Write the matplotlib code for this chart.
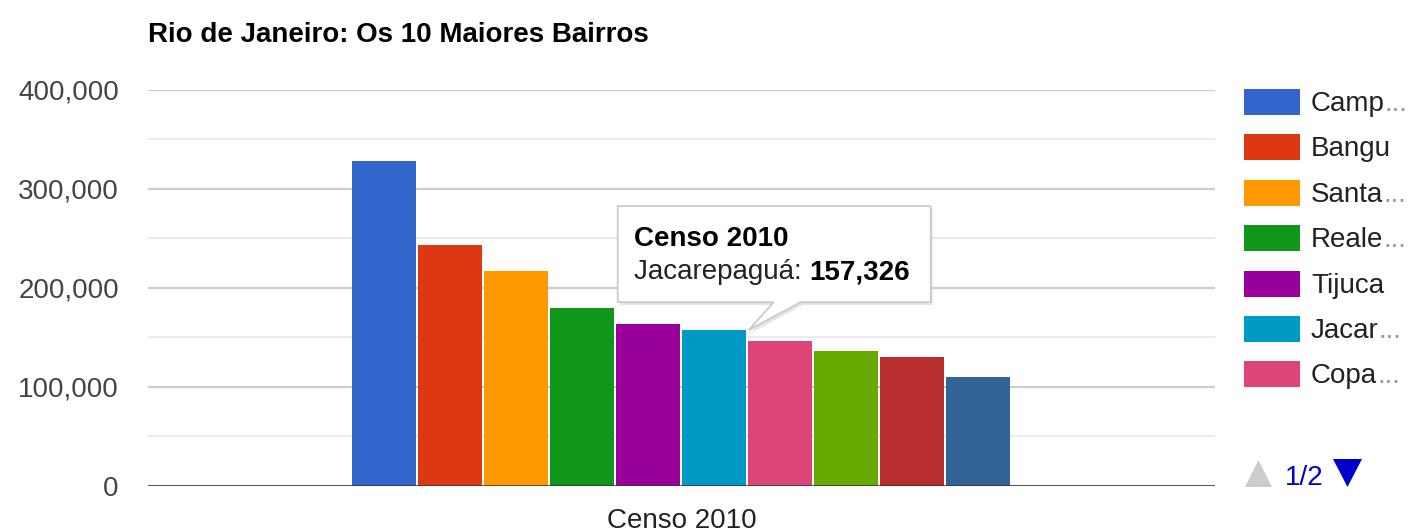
import matplotlib
matplotlib.use("Agg")
import matplotlib.pyplot as plt
from matplotlib.patches import Polygon, Rectangle
from matplotlib.ticker import FuncFormatter, MultipleLocator
import numpy as np

W, H, DPI = 1413, 532, 100

title = "Rio de Janeiro: Os 10 Maiores Bairros"
category = "Censo 2010"
bairros = ["Campo Grande", "Bangu", "Santa Cruz", "Realengo", "Tijuca",
           "Jacarepaguá", "Copacabana", "Barra da Tijuca", "Maré", "Guaratiba"]
populacao = [328370, 243125, 217333, 180123, 163805,
             157326, 146392, 135924, 129770, 110049]
cores = ["#3366cc", "#dc3912", "#ff9900", "#109618", "#990099",
         "#0099c6", "#dd4477", "#66aa00", "#b82e2e", "#316395"]
legenda = ["Camp", "Bangu", "Santa", "Reale", "Tijuca", "Jacar", "Copa"]
truncado = [True, False, True, True, False, True, True]
y_ticks = [0, 100000, 200000, 300000, 400000]
destaque = 5
pagina = "1/2"

FONT = "Liberation Sans"
plt.rcParams["font.family"] = [FONT, "DejaVu Sans"]

fig = plt.figure(figsize=(W / DPI, H / DPI), dpi=DPI)
fig.patch.set_facecolor("white")


def fig_pt(x, y):
    """Top-down pixel position -> figure fraction."""
    return (x / W, 1 - y / H)


# plot area
ax_left, ax_right, ax_top, ax_bottom = 148, 1215, 89.7, 486
ax = fig.add_axes([ax_left / W, 1 - ax_bottom / H,
                   (ax_right - ax_left) / W, (ax_bottom - ax_top) / H])

n = len(populacao)
slot_px = 66
pos = np.arange(n) - (n - 1) / 2
half_span = (ax_right - ax_left) / slot_px / 2
bw = 0.965
ax.bar(pos - 0.01, populacao, width=bw, color=cores, zorder=3, linewidth=0)

ax.set_xlim(-half_span, half_span)
ax.set_ylim(y_ticks[0], y_ticks[-1])
ax.set_yticks(y_ticks)
ax.yaxis.set_minor_locator(MultipleLocator(50000))
ax.yaxis.set_major_formatter(FuncFormatter(lambda v, p: f"{int(v):,}"))
ax.grid(axis="y", which="major", color="#cccccc", linewidth=1.6, zorder=0)
ax.grid(axis="y", which="minor", color="#ebebeb", linewidth=1.4, zorder=0)
ax.axhline(0, color="#333333", linewidth=1.8, zorder=4)
for s in ax.spines.values():
    s.set_visible(False)
ax.tick_params(axis="y", which="both", length=0, pad=21, labelsize=20,
               labelcolor="#444444")
ax.set_xticks([0])
ax.set_xticklabels([category])
ax.tick_params(axis="x", length=0, pad=15.5, labelsize=20, labelcolor="#222222")

# title
fig.text(*fig_pt(148, 42), title, fontsize=20, fontweight="bold",
         color="#000000", ha="left", va="baseline")

renderer = fig.canvas.get_renderer()

# tooltip on the highlighted bar
tip_disp = ax.transData.transform((pos[destaque] - 0.01 + bw / 2,
                                   populacao[destaque]))
tx, ty = tip_disp[0], H - tip_disp[1]
box_l, box_r = tx - 128, tx + 185
box_t, box_b = ty - 124, ty - 28
outline = [(box_l, box_t), (box_r, box_t), (box_r, box_b), (tx + 55, box_b),
           (tx + 3, ty), (tx + 28, box_b), (box_l, box_b)]
shadow = Polygon([fig_pt(x + 2, y + 3) for x, y in outline], closed=True,
                 transform=fig.transFigure, facecolor="#000000", alpha=0.10,
                 edgecolor="none", zorder=9)
balloon = Polygon([fig_pt(x, y) for x, y in outline], closed=True,
                  transform=fig.transFigure, facecolor="white",
                  edgecolor="#c8c8c8", linewidth=1.2, zorder=10)
fig.add_artist(shadow)
fig.add_artist(balloon)
fig.text(*fig_pt(box_l + 16, box_t + 40), category, fontsize=20,
         fontweight="bold", color="#000000", va="baseline", zorder=11)
lab = fig.text(*fig_pt(box_l + 16, box_t + 73), f"{bairros[destaque]}: ",
               fontsize=20, color="#222222", va="baseline", zorder=11)
ext = lab.get_window_extent(renderer)
fig.text(ext.x1 / W, 1 - (box_t + 73) / H, f"{populacao[destaque]:,}",
         fontsize=20, fontweight="bold", color="#000000", va="baseline",
         zorder=11)

# legend (first page)
leg_x, leg_y0, leg_step = 1244, 89, 45.4
for i, nome in enumerate(legenda):
    top = leg_y0 + i * leg_step
    fig.add_artist(Rectangle(fig_pt(leg_x, top + 26), 56 / W, 26 / H,
                             transform=fig.transFigure, facecolor=cores[i],
                             edgecolor="none"))
    t = fig.text(*fig_pt(leg_x + 67, top + 22), nome, fontsize=20,
                 color="#222222", va="baseline")
    if truncado[i]:
        e = t.get_window_extent(renderer)
        fig.text(e.x1 / W, 1 - (top + 22) / H, "...", fontsize=20,
                 color="#9a9a9a", va="baseline")

# pager
fig.add_artist(Polygon([fig_pt(1245, 487), fig_pt(1272, 487), fig_pt(1258.5, 460)],
                       closed=True, transform=fig.transFigure,
                       facecolor="#cccccc", edgecolor="none"))
fig.text(*fig_pt(1285, 485), pagina, fontsize=20, color="#0000cc",
         va="baseline")
fig.add_artist(Polygon([fig_pt(1333, 459), fig_pt(1362, 459), fig_pt(1347.5, 487)],
                       closed=True, transform=fig.transFigure,
                       facecolor="#0000cc", edgecolor="none"))

fig.savefig("out.png", dpi=DPI, facecolor="white")
